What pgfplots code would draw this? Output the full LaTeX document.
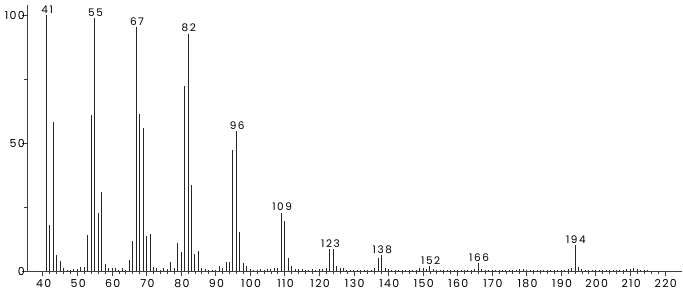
\documentclass[border=0pt]{standalone}
\usepackage{fontspec}
\setmainfont{Poppins}
\usepackage{pgfplots}
\pgfplotsset{compat=1.18}
\usepackage{pgfplotstable}
\pgfplotstableread{
mz int
41 100
42 18
43 58.3
44 6.3
45 4
46 1
47 0.3
48 0.3
49 0.7
50 0.7
51 1.7
52 1.7
53 14
54 61
55 99
56 22.8
57 31
58 2.7
59 1
60 1
61 1
62 0.5
63 1
64 0.5
65 4.3
66 11.8
67 95.5
68 61.3
69 56
70 13.7
71 14.3
72 1.7
73 1
74 0.5
75 1
76 0.7
77 3.6
78 1
79 10.8
80 7.5
81 72.3
82 92.8
83 33.6
84 6.6
85 7.9
86 1
87 0.7
88 0.3
89 0.3
90 0.3
91 2
92 1
93 3.5
94 3.5
95 47.5
96 54.8
97 15.4
98 3
99 2
100 0.7
101 0.5
102 0.5
103 0.7
104 0.5
105 0.7
106 0.7
107 1.2
108 1
109 22.8
110 19.5
111 5.2
112 2
113 0.8
114 0.8
115 0.7
116 0.5
117 0.3
118 0.7
119 0.5
120 0.7
121 0.6
122 1.2
123 8.5
124 8.5
125 2
126 1
127 1
128 0.5
129 0.5
130 0.3
131 0.5
132 0.5
133 0.5
134 0.3
135 0.5
136 1
137 5
138 6.1
139 1
140 0.8
141 0.5
142 0.5
143 0.5
144 0.3
145 0.5
146 0.3
147 0.3
148 0.3
149 1
150 1
151 0.8
152 2
153 0.8
154 0.5
155 0.3
156 0.3
157 0.3
158 0.3
159 0.5
160 0.3
161 0.3
162 0.3
163 0.5
164 0.5
165 0.8
166 3
167 0.8
168 0.5
169 0.3
170 0.3
171 0.3
172 0.3
173 0.3
174 0.3
175 0.5
176 0.5
177 0.5
178 0.8
179 0.8
180 0.5
181 0.3
182 0.3
183 0.3
184 0.3
185 0.5
186 0.3
187 0.3
188 0.3
189 0.3
190 0.3
191 0.3
192 0.8
193 1
194 10.2
195 1.5
196 0.8
197 0.5
198 0.3
199 0.3
200 0.3
201 0.3
202 0.3
203 0.3
204 0.3
205 0.3
206 0.3
207 0.3
208 0.5
209 0.8
210 0.8
211 1
212 0.8
213 0.5
214 0.3
215 0.3
}\spectrum
\pgfplotstableread{
mz int
41 100
55 99
67 95.5
82 92.8
96 54.8
109 22.8
123 8.5
138 6.1
152 2
166 3
194 10.2
}\peaks
\begin{document}
\begin{tikzpicture}
\useasboundingbox (-27bp,-22bp) rectangle (656bp,271bp);
\begin{axis}[
  at={(0,0)}, anchor=south west,
  scale only axis,
  width=654.5bp, height=266bp,
  xmin=35.4, xmax=224.8,
  ymin=0, ymax=104,
  axis x line=bottom, axis y line=left,
  axis line style={black!75, line width=0.8bp, -},
  xtick={40,50,...,220},
  minor x tick num=4,
  ytick={0,50,100},
  minor ytick={25,75},
  tick align=outside,
  major tick length=5bp,
  minor tick length=3bp,
  tick style={black!75, line width=0.8bp},
  tick label style={font=\fontsize{11}{12}\selectfont\addfontfeature{LetterSpace=12}, black},
  /pgf/number format/assume math mode=true,
  xticklabel style={xshift=0.8bp},
  yticklabel style={xshift=4bp, inner sep=1bp},
  clip=false,
]
\addplot[ycomb, black!85, line width=1bp, mark=none] table[x=mz, y=int] {\spectrum};
\addplot[only marks, mark=none, draw=none,
  point meta=x,
  nodes near coords={\pgfmathprintnumber[int detect]{\pgfplotspointmeta}},
  nodes near coords style={font=\fontsize{10.5}{12}\selectfont\addfontfeature{LetterSpace=15}, anchor=south, inner sep=1.5bp, xshift=0.8bp, black}]
  table[x=mz, y=int] {\peaks};
\end{axis}
\end{tikzpicture}
\end{document}
